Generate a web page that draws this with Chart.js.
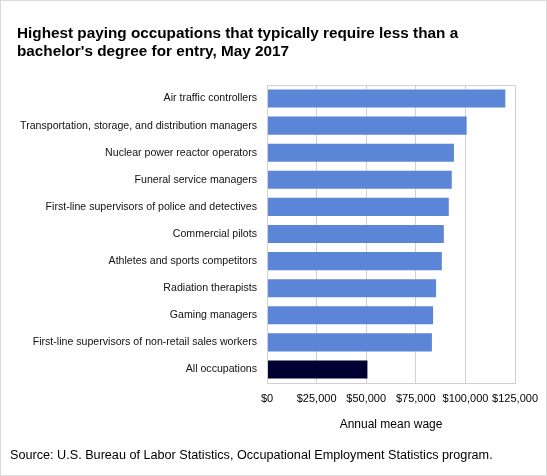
<!DOCTYPE html>
<html>
<head>
<meta charset="utf-8">
<script src="https://cdn.jsdelivr.net/npm/chart.js@4.4.1/dist/chart.umd.min.js"></script>
<style>
  html, body { margin: 0; padding: 0; background: #fff; }
  #wrap {
    position: relative; width: 547px; height: 476px; box-sizing: border-box;
    border: 1px solid #d9d9d9; font-family: Arial, "Liberation Sans", sans-serif;
  }
  #title { position: absolute; left: 16px; top: 23px; font-size: 15.3px; font-weight: bold; line-height: 18px; color: #000; }
  #source { position: absolute; left: 9px; top: 447px; font-size: 12.65px; color: #000; }
  canvas { position: absolute; left: -1px; top: -1px; }
</style>
</head>
<body>
<div id="wrap">
  <canvas id="chart" width="547" height="476"></canvas>
  <div id="title">Highest paying occupations that typically require less than a<br>bachelor's degree for entry, May 2017</div>
  <div id="source">Source: U.S. Bureau of Labor Statistics, Occupational Employment Statistics program.</div>
</div>
<script>
// datos
const occupations = [
  'Air traffic controllers',
  'Transportation, storage, and distribution managers',
  'Nuclear power reactor operators',
  'Funeral service managers',
  'First-line supervisors of police and detectives',
  'Commercial pilots',
  'Athletes and sports competitors',
  'Radiation therapists',
  'Gaming managers',
  'First-line supervisors of non-retail sales workers',
  'All occupations'
];
const meanWage = [120100, 100600, 94200, 93100, 91600, 89100, 88100, 85200, 83700, 83100, 50600];
const wageTicks = [0, 25000, 50000, 75000, 100000, 125000];

Chart.defaults.font.family = 'Arial, "Liberation Sans", sans-serif';

// recuadro gris alrededor del area de trazado
const areaBox = {
  id: 'areaBox',
  afterDatasetsDraw(chart) {
    const { ctx, chartArea: a } = chart;
    ctx.save();
    ctx.strokeStyle = '#d0d0d0';
    ctx.lineWidth = 1;
    ctx.strokeRect(Math.round(a.left) + 0.5, Math.round(a.top) + 0.5, Math.round(a.right - a.left), Math.round(a.bottom - a.top));
    ctx.restore();
  }
};

new Chart(document.getElementById('chart'), {
  type: 'bar',
  data: {
    labels: occupations,
    datasets: [{
      label: 'Annual mean wage',
      data: meanWage,
      backgroundColor: occupations.map((o, i) => i === occupations.length - 1 ? '#000033' : '#5b85d6'),
      barPercentage: 0.667,
      categoryPercentage: 1
    }]
  },
  options: {
    indexAxis: 'y',
    responsive: false,
    animation: false,
    layout: { padding: { top: 85, right: 31, bottom: 43, left: 0 } },
    plugins: {
      legend: { display: false },
      tooltip: { enabled: false }
    },
    scales: {
      y: {
        afterFit: s => { s.width = 267; },
        grid: { display: false, drawTicks: false },
        border: { display: false },
        ticks: { color: '#111', font: { size: 10.6 }, padding: 10 }
      },
      x: {
        min: 0,
        max: 125000,
        afterFit: s => { s.height = 50; },
        afterBuildTicks: s => { s.ticks = wageTicks.map(v => ({ value: v })); },
        grid: { color: '#d0d0d0', drawTicks: false },
        border: { display: false },
        ticks: {
          color: '#000',
          font: { size: 11 },
          padding: 9,
          maxRotation: 0,
          minRotation: 0,
          autoSkip: false,
          callback: v => '$' + Number(v).toLocaleString('en-US')
        },
        title: {
          display: true,
          text: 'Annual mean wage',
          color: '#000',
          font: { size: 12 },
          padding: { top: 0, bottom: 1 }
        }
      }
    }
  },
  plugins: [areaBox]
});
</script>
</body>
</html>
